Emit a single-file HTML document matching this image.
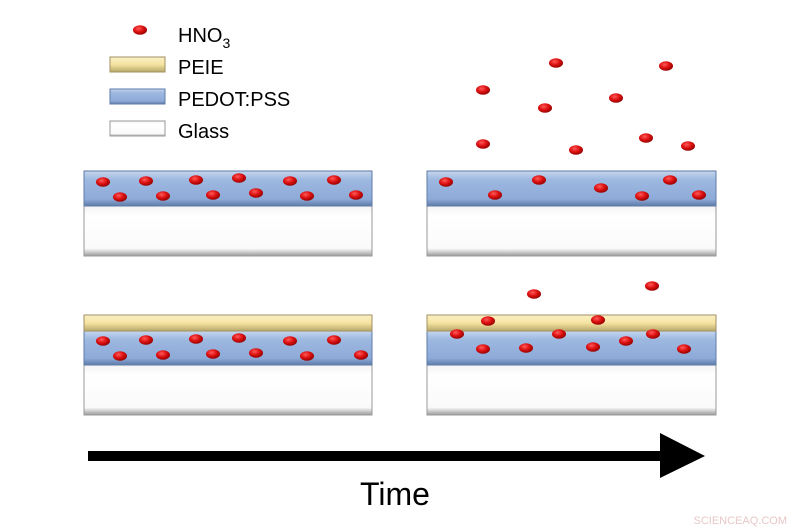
<!DOCTYPE html>
<html><head><meta charset="utf-8"><style>
html,body{margin:0;padding:0;background:#fff;}
svg{display:block}
text{font-family:"Liberation Sans",sans-serif;}
</style></head><body>
<svg width="800" height="530" viewBox="0 0 800 530" xmlns="http://www.w3.org/2000/svg">
<defs>
<linearGradient id="blue" x1="0" y1="0" x2="0" y2="1">
<stop offset="0" stop-color="#c6d6ee"/><stop offset="0.25" stop-color="#9db8e0"/><stop offset="0.8" stop-color="#8eaad8"/><stop offset="1" stop-color="#5f7ba8"/></linearGradient>
<linearGradient id="yel" x1="0" y1="0" x2="0" y2="1">
<stop offset="0" stop-color="#fbf1c8"/><stop offset="0.5" stop-color="#f5e3a0"/><stop offset="1" stop-color="#b8a86a"/></linearGradient>
<linearGradient id="gl" x1="0" y1="0" x2="0" y2="1">
<stop offset="0" stop-color="#f4f4f4"/><stop offset="0.2" stop-color="#ffffff"/><stop offset="0.85" stop-color="#fafafa"/><stop offset="1" stop-color="#9a9a9a"/></linearGradient>
<radialGradient id="dot" cx="0.4" cy="0.35" r="0.7">
<stop offset="0" stop-color="#ff5a5a"/><stop offset="0.5" stop-color="#dd1010"/><stop offset="1" stop-color="#8a0000"/></radialGradient>
<g id="d"><ellipse rx="7" ry="4.8" fill="url(#dot)"/></g>
</defs>

<!-- legend -->
<use href="#d" x="140" y="30"/>
<text x="178" y="42" font-size="20">HNO<tspan font-size="14" dy="6">3</tspan></text>
<rect x="110" y="57" width="55" height="15" fill="url(#yel)" stroke="#a09060" stroke-width="1"/>
<text x="178" y="74" font-size="20">PEIE</text>
<rect x="110" y="89" width="55" height="15" fill="url(#blue)" stroke="#5f7ba8" stroke-width="1"/>
<text x="178" y="106" font-size="20">PEDOT:PSS</text>
<rect x="110" y="121" width="55" height="15" fill="url(#gl)" stroke="#999" stroke-width="1"/>
<text x="178" y="138" font-size="20">Glass</text>

<!-- top-left -->
<rect x="84" y="206" width="288" height="50" fill="url(#gl)" stroke="#999"/>
<rect x="84" y="171" width="288" height="35" fill="url(#blue)" stroke="#5f7ba8"/>
<g>
<use href="#d" x="103" y="182"/><use href="#d" x="146" y="181"/><use href="#d" x="196" y="180"/><use href="#d" x="239" y="178"/><use href="#d" x="290" y="181"/><use href="#d" x="334" y="180"/>
<use href="#d" x="120" y="197"/><use href="#d" x="163" y="196"/><use href="#d" x="213" y="195"/><use href="#d" x="256" y="193"/><use href="#d" x="307" y="196"/><use href="#d" x="356" y="195"/>
</g>

<!-- top-right -->
<rect x="427" y="206" width="289" height="50" fill="url(#gl)" stroke="#999"/>
<rect x="427" y="171" width="289" height="35" fill="url(#blue)" stroke="#5f7ba8"/>
<g>
<use href="#d" x="446" y="182"/><use href="#d" x="539" y="180"/><use href="#d" x="670" y="180"/><use href="#d" x="495" y="195"/><use href="#d" x="601" y="188"/><use href="#d" x="642" y="196"/><use href="#d" x="699" y="195"/>
<use href="#d" x="556" y="63"/><use href="#d" x="666" y="66"/><use href="#d" x="483" y="90"/><use href="#d" x="616" y="98"/><use href="#d" x="545" y="108"/><use href="#d" x="483" y="144"/><use href="#d" x="576" y="150"/><use href="#d" x="646" y="138"/><use href="#d" x="688" y="146"/>
</g>

<!-- bottom-left -->
<rect x="84" y="365" width="288" height="50" fill="url(#gl)" stroke="#999"/>
<rect x="84" y="331" width="288" height="34" fill="url(#blue)" stroke="#5f7ba8"/>
<rect x="84" y="315" width="288" height="16" fill="url(#yel)" stroke="#a09060"/>
<g>
<use href="#d" x="103" y="341"/><use href="#d" x="146" y="340"/><use href="#d" x="196" y="339"/><use href="#d" x="239" y="338"/><use href="#d" x="290" y="341"/><use href="#d" x="334" y="340"/>
<use href="#d" x="120" y="356"/><use href="#d" x="163" y="355"/><use href="#d" x="213" y="354"/><use href="#d" x="256" y="353"/><use href="#d" x="307" y="356"/><use href="#d" x="361" y="355"/>
</g>

<!-- bottom-right -->
<rect x="427" y="365" width="289" height="50" fill="url(#gl)" stroke="#999"/>
<rect x="427" y="331" width="289" height="34" fill="url(#blue)" stroke="#5f7ba8"/>
<rect x="427" y="315" width="289" height="16" fill="url(#yel)" stroke="#a09060"/>
<g>
<use href="#d" x="534" y="294"/><use href="#d" x="652" y="286"/><use href="#d" x="488" y="321"/><use href="#d" x="598" y="320"/>
<use href="#d" x="457" y="334"/><use href="#d" x="559" y="334"/><use href="#d" x="653" y="334"/>
<use href="#d" x="483" y="349"/><use href="#d" x="526" y="348"/><use href="#d" x="593" y="347"/><use href="#d" x="626" y="341"/><use href="#d" x="684" y="349"/>
</g>

<!-- arrow -->
<rect x="88" y="451" width="575" height="10" fill="#000"/>
<polygon points="660,433 705,456 660,478" fill="#000"/>
<text x="395" y="505" font-size="32" text-anchor="middle">Time</text>
<text x="787" y="524" font-size="11" fill="#e8c8c8" text-anchor="end">SCIENCEAQ.COM</text>
</svg>
</body></html>
